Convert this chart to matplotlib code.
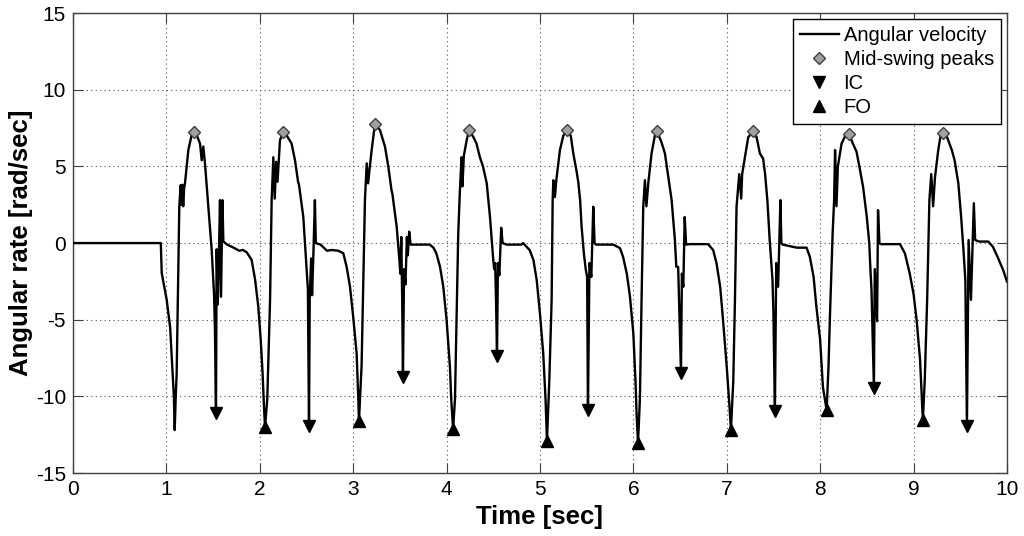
import numpy as np
import matplotlib
matplotlib.use('Agg')
import matplotlib.pyplot as plt

plt.rcParams['font.family'] = ['Liberation Sans', 'DejaVu Sans']
plt.rcParams['axes.unicode_minus'] = False

# angular velocity trace (time [s], rate [rad/s])
t = [0.0, 0.94, 0.95, 1.003, 1.04, 1.067, 1.08, 1.089, 1.10, 1.11, 1.128, 1.138, 1.153, 1.16, 1.17, 1.18, 1.19, 1.199,
     1.235, 1.27, 1.296, 1.324, 1.36, 1.378, 1.395, 1.413, 1.449, 1.485, 1.51, 1.52, 1.531, 1.538, 1.55, 1.56, 1.574,
     1.585, 1.60, 1.61, 1.65, 1.72, 1.78, 1.82, 1.86, 1.913, 1.95, 1.984, 2.01, 2.03, 2.045, 2.056, 2.08, 2.11, 2.127,
     2.145, 2.16, 2.175, 2.19, 2.216, 2.248, 2.29, 2.34, 2.377, 2.41, 2.42, 2.466, 2.50, 2.515, 2.527, 2.535, 2.55,
     2.56, 2.575, 2.59, 2.60, 2.65, 2.72, 2.77, 2.84, 2.894, 2.93, 2.966, 3.0, 3.037, 3.055, 3.062, 3.09, 3.108, 3.126,
     3.145, 3.16, 3.175, 3.198, 3.233, 3.287, 3.34, 3.376, 3.41, 3.42, 3.466, 3.495, 3.505, 3.515, 3.525, 3.533, 3.545,
     3.56, 3.575, 3.585, 3.60, 3.615, 3.70, 3.82, 3.86, 3.89, 3.93, 3.965, 4.0, 4.036, 4.05, 4.07, 4.09, 4.108, 4.125,
     4.143, 4.16, 4.17, 4.185, 4.215, 4.24, 4.286, 4.32, 4.357, 4.39, 4.43, 4.465, 4.50, 4.51, 4.52, 4.53, 4.54, 4.55,
     4.565, 4.585, 4.60, 4.643, 4.80, 4.82, 4.85, 4.89, 4.93, 4.965, 5.0, 5.035, 5.06, 5.075, 5.10, 5.125, 5.136, 5.143,
     5.16, 5.175, 5.214, 5.25, 5.289, 5.33, 5.357, 5.39, 5.41, 5.43, 5.446, 5.47, 5.49, 5.505, 5.514, 5.53, 5.55, 5.571,
     5.585, 5.60, 5.785, 5.857, 5.89, 5.93, 5.964, 6.0, 6.024, 6.035, 6.05, 6.07, 6.088, 6.106, 6.124, 6.14, 6.16,
     6.195, 6.23, 6.253, 6.30, 6.338, 6.374, 6.41, 6.445, 6.46, 6.48, 6.51, 6.52, 6.535, 6.55, 6.565, 6.60, 6.80,
     6.855, 6.89, 6.93, 6.96, 7.0, 7.03, 7.045, 7.07, 7.088, 7.105, 7.134, 7.155, 7.165, 7.195, 7.23, 7.28, 7.32,
     7.355, 7.39, 7.41, 7.435, 7.46, 7.49, 7.50, 7.516, 7.53, 7.55, 7.575, 7.585, 7.60, 7.75, 7.855, 7.89, 7.93, 7.96,
     8.0, 8.03, 8.07, 8.09, 8.105, 8.134, 8.15, 8.16, 8.175, 8.19, 8.23, 8.27, 8.31, 8.35, 8.39, 8.42, 8.46, 8.50,
     8.526, 8.54, 8.55, 8.576, 8.585, 8.61, 8.62, 8.635, 8.65, 8.855, 8.908, 8.96, 9.0, 9.033, 9.07, 9.09, 9.10, 9.12,
     9.146, 9.17, 9.19, 9.21, 9.23, 9.265, 9.29, 9.315, 9.36, 9.41, 9.44, 9.48, 9.51, 9.535, 9.555, 9.572, 9.59,
     9.615, 9.646, 9.66, 9.70, 9.80, 9.85, 9.90, 9.96, 10.0]
omega = [0.0, 0.0, -1.96, -3.7, -5.5, -8.5, -10.0, -12.2, -10.0, -8.5, -1.5, 2.37, 3.78, 2.5, 3.8, 2.4, 3.6, 3.9,
         6.07, 7.04, 7.24, 7.04, 6.5, 5.4, 6.3, 5.2, 2.37, -0.46, -3.3, -5.7, -11.09, -0.4, -4.0, -1.5, 2.8,
         -3.5, 2.8, 0.1, -0.1, -0.3, -0.5, -0.45, -0.6, -1.1, -2.4, -4.15, -6.3, -8.5, -10.7, -12.0, -10.2, -3.7, 2.8,
         5.6, 2.9, 5.3, 4.0, 6.7, 7.24, 7.0, 6.5, 5.4, 4.0, 3.8, 1.7, -1.55, -3.0, -11.94, -3.5, -1.0,
         -3.4, -0.5, 2.8, 0.0, -0.1, -0.5, -0.45, -0.5, -0.66, -1.55, -2.85, -4.8, -7.2, -10.2, -11.6, -8.0, -2.6, 2.8,
         5.2, 3.9, 4.8, 6.07, 7.76, 7.37, 6.3, 5.0, 3.46, 3.2, 1.06, -1.1, -2.0, 0.4, -3.7, -8.74, -1.7,
         -2.7, 0.4, -0.8, 0.74, -0.1, -0.1, -0.1, -0.3, -0.66, -1.55, -2.85, -5.0, -8.07, -10.2, -12.13, -10.2, -4.8, 0.63,
         3.46, 5.6, 3.7, 5.7, 6.7, 7.37, 6.93, 6.5, 5.6, 5.0, 3.9, 1.7, -1.1, -1.7, -1.3, -3.8, -7.37, -1.3,
         -2.1, 1.0, 0.0, -0.1, -0.1, 0.0, -0.2, -0.46, -1.1, -2.4, -4.6, -7.2, -10.2, -12.9, -9.0, -3.7, 2.8, 4.1,
         3.0, 4.1, 6.07, 7.0, 7.37, 7.0, 5.85, 4.76, 4.0, 2.8, 1.06, -0.66, -1.7, -2.2, -10.89, -1.3, -2.2, 2.37,
         0.0, -0.1, -0.1, -0.33, -0.9, -2.0, -3.5, -5.9, -9.15, -11.2, -13.05, -10.2, -3.7, 2.37, 4.1, 2.4, 3.9,
         5.85, 7.0, 7.3, 6.6, 5.85, 4.3, 2.8, 0.2, -1.55, -1.55, -8.48, -2.0, -2.85, 1.7, -0.1, -0.07, -0.07,
         -0.46, -1.3, -2.85, -5.0, -8.07, -10.7, -12.2, -9.0, -3.7, 2.37, 4.5, 2.9, 4.5, 5.6, 6.9, 7.3, 6.9,
         5.85, 5.5, 4.55, 2.8, 0.2, -2.4, -4.6, -10.96, -1.3, -2.85, 2.8, 0.0, -0.1, -0.3, -0.3, -0.9, -2.2, -4.15,
         -6.3, -9.4, -10.9, -8.0, -4.8, 0.63, 2.8, 6.07, 2.4, 5.0, 6.5, 7.0, 7.1, 6.5, 5.96, 5.0, 3.67, 1.7,
         0.0, -1.9, -3.0, -9.46, -1.7, -5.1, 2.15, 0.0, -0.07, -0.07, -0.67, -2.0, -3.3, -5.0, -7.6, -10.2, -11.55, -9.0,
         -3.7, 2.8, 4.5, 2.4, 4.3, 6.07, 7.0, 7.17, 6.9, 6.07, 5.4, 3.9, 1.7, -0.46, -2.4, -11.94, 0.2,
         -3.7, 2.6, 0.2, 0.1, 0.1, -0.24, -0.9, -1.76, -2.5]

# detected gait events
peak_t = [1.296, 2.248, 3.233, 4.24, 5.289, 6.253, 7.28, 8.31, 9.315]
peak_v = [7.24, 7.24, 7.76, 7.37, 7.37, 7.3, 7.3, 7.1, 7.17]
ic_t = [1.531, 2.527, 3.533, 4.54, 5.514, 6.51, 7.516, 8.576, 9.572]
ic_v = [-11.09, -11.94, -8.74, -7.37, -10.89, -8.48, -10.96, -9.46, -11.94]
fo_t = [2.056, 3.062, 4.07, 5.075, 6.05, 7.045, 8.07, 9.10]
fo_v = [-12.0, -11.6, -12.13, -12.9, -13.05, -12.2, -10.9, -11.55]

fig = plt.figure(figsize=(10.24, 5.36), dpi=100)
ax = fig.add_axes([0.0713, 0.1175, 0.912, 0.858])

ax.plot(t, omega, color='black', lw=1.7, label='Angular velocity', zorder=3)
ax.plot(peak_t, peak_v, ls='none', marker='D', ms=6, mfc='#a0a0a0', mec='#404040', mew=1.0,
        label='Mid-swing peaks', zorder=4)
ax.plot(ic_t, ic_v, ls='none', marker='v', ms=9, color='black', label='IC', zorder=4)
ax.plot(fo_t, fo_v, ls='none', marker='^', ms=9, color='black', label='FO', zorder=4)

ax.set_xlim(0, 10)
ax.set_ylim(-15, 15)
ax.set_xticks(np.arange(0, 11, 1))
ax.set_yticks(np.arange(-15, 16, 5))
ax.grid(True, ls=(0, (1, 3)), color='#505050', lw=0.8)
ax.tick_params(direction='in', length=7, top=True, right=True, labelsize=15, pad=5, color='#404040')
for s in ax.spines.values():
    s.set_color('#404040')
    s.set_linewidth(1.0)

ax.set_xlabel('Time [sec]', fontsize=18.5, fontweight='bold', labelpad=4)
ax.set_ylabel('Angular rate [rad/sec]', fontsize=18.5, fontweight='bold', labelpad=2)

leg = ax.legend(loc='upper right', fontsize=14.5, fancybox=False, framealpha=1, edgecolor='black',
                borderaxespad=0.3, handlelength=1.9, handletextpad=0.25, labelspacing=0.25, borderpad=0.35)
leg.get_frame().set_linewidth(1.0)

fig.savefig('out.png', dpi=100)
